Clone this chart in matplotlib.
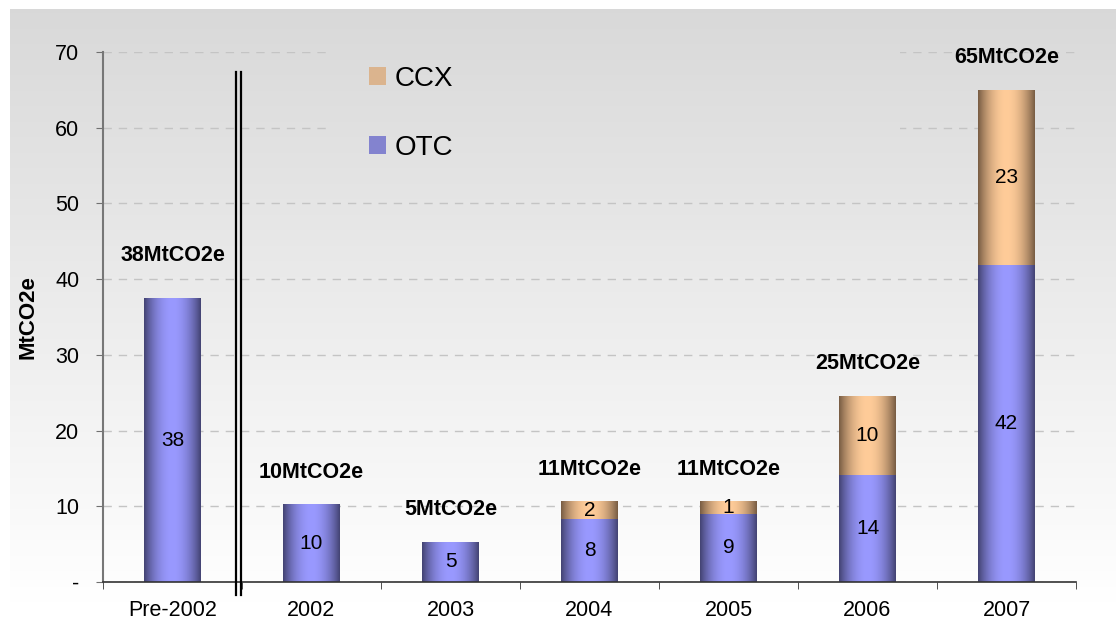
import numpy as np
import matplotlib.pyplot as plt
from matplotlib.patches import Patch

plt.rcParams['font.family'] = ['Liberation Sans', 'DejaVu Sans']

# values (MtCO2e)
categories = ['Pre-2002', '2002', '2003', '2004', '2005', '2006', '2007']
otc = [37.5, 10.3, 5.3, 8.3, 9.0, 14.1, 41.9]
ccx = [0.0, 0.0, 0.0, 2.4, 1.7, 10.5, 23.1]
otc_labels = ['38', '10', '5', '8', '9', '14', '42']
ccx_labels = ['', '', '', '2', '1', '10', '23']
total_labels = ['38MtCO2e', '10MtCO2e', '5MtCO2e', '11MtCO2e', '11MtCO2e', '25MtCO2e', '65MtCO2e']
yticks = [0, 10, 20, 30, 40, 50, 60, 70]
ytick_labels = ['-', '10', '20', '30', '40', '50', '60', '70']

W, H = 1116, 624
OTC_LIGHT, OTC_DARK = np.array([0.60, 0.60, 1.0]), np.array([0.27, 0.27, 0.46])
CCX_LIGHT, CCX_DARK = np.array([1.0, 0.80, 0.60]), np.array([0.48, 0.37, 0.27])

# panel gradient, as function of pixel row from top
PANEL_TOP, PANEL_BOT = 9, 602
def panel_grey(py):
    f = np.clip((np.asarray(py) - PANEL_TOP) / (PANEL_BOT - PANEL_TOP), 0, 1)
    return 0.85 + 0.15 * f

fig = plt.figure(figsize=(W / 100, H / 100), dpi=100)
fig.patch.set_facecolor('white')

bg = fig.add_axes([10 / W, 1 - PANEL_BOT / H, 1 - 10 / W, (PANEL_BOT - PANEL_TOP) / H])
rows = np.arange(PANEL_TOP, PANEL_BOT)
g = panel_grey(rows)
bg.imshow(np.dstack([g, g, g]).reshape(len(rows), 1, 3),
          aspect='auto', extent=(0, 1, 0, 1))
bg.set_axis_off()

ax_l, ax_r, ax_t, ax_b = 103, 1076, 52, 582
ax = fig.add_axes([ax_l / W, 1 - ax_b / H, (ax_r - ax_l) / W, (ax_b - ax_t) / H])
ax.patch.set_alpha(0)
ax.set_axisbelow(True)

x = np.arange(len(categories))
width = 0.41


def shade(bars, light, dark):
    t = np.linspace(0, 1, 64)
    s = 1 - np.abs(2 * t - 1) ** 2.0
    cols = dark[None, :] + (light - dark)[None, :] * s[:, None]
    img = cols[None, :, :]
    for b in bars:
        if b.get_height() <= 0:
            continue
        x0, y0 = b.get_x(), b.get_y()
        im = ax.imshow(img, aspect='auto', zorder=2.1,
                       extent=(x0, x0 + b.get_width(), y0, y0 + b.get_height()))
        im.set_clip_path(b)


b_otc = ax.bar(x, otc, width, color=OTC_LIGHT, zorder=2)
b_ccx = ax.bar(x, ccx, width, bottom=otc, color=CCX_LIGHT, zorder=2)
shade(b_otc, OTC_LIGHT, OTC_DARK)
shade(b_ccx, CCX_LIGHT, CCX_DARK)

ax.bar_label(b_otc, labels=otc_labels, label_type='center', fontsize=15, zorder=3)
ax.bar_label(b_ccx, labels=ccx_labels, label_type='center', fontsize=15, zorder=3)

totals = np.array(otc) + np.array(ccx)
label_pad = [31, 23, 23, 23, 23, 23, 23]
for xi, tot, lab, pad in zip(x, totals, total_labels, label_pad):
    ax.annotate(lab, (xi, tot), xytext=(0, pad), textcoords='offset points',
                ha='center', va='center', fontsize=15.5, fontweight='bold')

ax.yaxis.grid(True, color='#c4c4c4', lw=1, dashes=(6, 5))
ax.set_yticks(yticks)
ax.set_yticklabels(ytick_labels)
ax.tick_params(axis='y', length=5, color='#707070', pad=12, labelsize=15.5)
ax.set_xticks(x)
ax.set_xticklabels(categories)
ax.set_xticks(np.arange(len(categories) + 1) - 0.5, minor=True)
ax.tick_params(axis='x', which='major', length=0, pad=13, labelsize=15.5)
ax.tick_params(axis='x', which='minor', length=5, color='#333333')
for sp in ['top', 'right']:
    ax.spines[sp].set_visible(False)
ax.spines['left'].set_color('#777777')
ax.spines['left'].set_linewidth(1.5)
ax.spines['bottom'].set_color('#333333')
ax.spines['bottom'].set_linewidth(1.2)

ax.set_ylabel('MtCO2e', fontsize=16, fontweight='bold', labelpad=12)

# cover behind legend hides grid lines, same panel shade
cx0, cx1 = (330 - ax_l) / (ax_r - ax_l), (900 - ax_l) / (ax_r - ax_l)
py = np.arange(44, 171)
cg = panel_grey(py)
cover = np.dstack([cg, cg, cg]).reshape(len(py), 1, 3)
ax.imshow(cover, aspect='auto', transform=ax.transAxes, zorder=1, clip_on=False,
          extent=(cx0, cx1, (ax_b - 171) / (ax_b - ax_t), (ax_b - 44) / (ax_b - ax_t)))
ax.set_xlim(-0.5, len(categories) - 0.5)
ax.set_ylim(0, 70)

# axis break between Pre-2002 and 2002
sep = 0.478
for dx in (-0.018, 0.018):
    ax.plot([sep + dx, sep + dx], [-1.7, 67.4], color='black', lw=1.6,
            clip_on=False, zorder=4)

handles = [Patch(facecolor=(CCX_LIGHT + CCX_DARK) / 2 + 0.12, edgecolor='none'),
           Patch(facecolor=(OTC_LIGHT + OTC_DARK) / 2 + 0.08, edgecolor='none')]
ax.legend(handles, ['CCX', 'OTC'], loc='upper left', frameon=False, fontsize=20,
          bbox_to_anchor=((369 - ax_l) / (ax_r - ax_l), (ax_b - 66) / (ax_b - ax_t)),
          handlelength=0.62, handleheight=0.6, handletextpad=0.3, labelspacing=1.55,
          borderpad=0, borderaxespad=0)

fig.savefig('out.png', dpi=100)
